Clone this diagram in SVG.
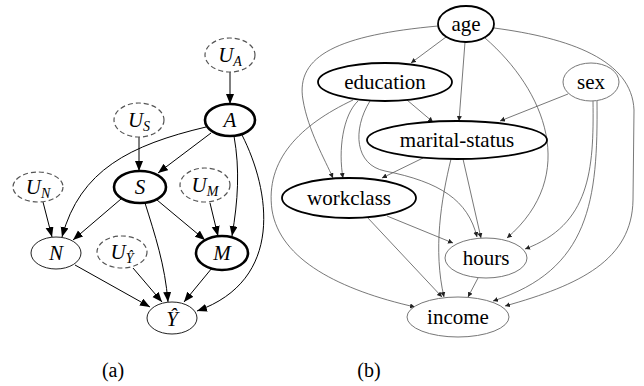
<svg xmlns="http://www.w3.org/2000/svg" width="644" height="386" viewBox="0 0 644 386">
<style>
.m{font-style:italic;font-size:21px;text-anchor:middle}
.sub{font-size:14px}
.lb{font-size:21px;text-anchor:middle}
.cap{font-size:20px;text-anchor:middle}
.thick{fill:#fff;stroke:#000;stroke-width:2.6}
.thin{fill:#fff;stroke:#222;stroke-width:1}
.dash{fill:#fff;stroke:#555;stroke-width:1.2;stroke-dasharray:5 3}
.bthick{fill:#fff;stroke:#000;stroke-width:1.8}
.bthin{fill:#fff;stroke:#777;stroke-width:1}
.ea{fill:none;stroke:#000;stroke-width:1;marker-end:url(#ha)}
.eb{fill:none;stroke:#555;stroke-width:0.8;marker-end:url(#hb)}
</style>
<defs>
<marker id="ha" markerUnits="userSpaceOnUse" markerWidth="12" markerHeight="10" refX="10" refY="4" orient="auto"><path d="M0,0 L10,4 L0,8 Z" fill="#000"/></marker>
<marker id="hb" markerUnits="userSpaceOnUse" markerWidth="7" markerHeight="6" refX="5" refY="2.5" orient="auto"><path d="M0,0 L5,2.5 L0,5 Z" fill="#222"/></marker>
</defs>
<rect width="644" height="386" fill="#fff"/>
<g id="connectors">
<path class="ea" d="M230,72 L230,104"/>
<path class="ea" d="M211,133 L158,173"/>
<path class="ea" d="M206,127 C130,145 80,170 62,237"/>
<path class="ea" d="M234,136 C240,170 238,200 232,236"/>
<path class="ea" d="M242,135 C270,190 285,280 197,311"/>
<path class="ea" d="M139,137 L139,171"/>
<path class="ea" d="M121,199 L73,240"/>
<path class="ea" d="M157,200 L205,240"/>
<path class="ea" d="M145,203 C155,235 165,265 168,302"/>
<path class="ea" d="M43,202 L52,237"/>
<path class="ea" d="M75,265 L150,307"/>
<path class="ea" d="M133,268 L162,302"/>
<path class="ea" d="M210,203 L218,236"/>
<path class="ea" d="M212,268 L184,302"/>
<path class="eb" d="M446,37 L411,63"/>
<path class="eb" d="M465,42 L459,121"/>
<path class="eb" d="M438,26 C340,35 295,55 303,100 C308,130 325,160 333,178"/>
<path class="eb" d="M485,38 C545,90 580,175 507,238"/>
<path class="eb" d="M494,28 C570,38 632,60 634,110 L633,200 C632,260 580,285 505,306"/>
<path class="eb" d="M407,100 L433,122"/>
<path class="eb" d="M358,101 C343,115 338,150 343,178"/>
<path class="eb" d="M370,101 C352,130 355,165 385,171 C440,182 468,200 477,237"/>
<path class="eb" d="M353,100 C300,125 265,160 272,210 C280,260 340,290 415,307"/>
<path class="eb" d="M423,158 L382,178"/>
<path class="eb" d="M463,159 L481,238"/>
<path class="eb" d="M451,159 C441,200 433,250 444,297"/>
<path class="eb" d="M568,94 L500,121"/>
<path class="eb" d="M593,101 C594,170 590,225 525,249"/>
<path class="eb" d="M597,101 C598,200 590,270 493,301"/>
<path class="eb" d="M387,216 L453,243"/>
<path class="eb" d="M367,217 L442,297"/>
<path class="eb" d="M478,278 L468,297"/>
</g>
<g font-family="Liberation Serif, Times New Roman, serif" fill="#000">
<g id="UA"><ellipse class="dash" cx="230" cy="55" rx="25" ry="17"/><text class="m" x="230" y="62">U<tspan class="sub" dy="4">A</tspan></text></g>
<g id="A"><ellipse class="thick" cx="230" cy="120" rx="25" ry="16"/><text class="m" x="230" y="127">A</text></g>
<g id="US"><ellipse class="dash" cx="139" cy="120" rx="25" ry="17"/><text class="m" x="139" y="127">U<tspan class="sub" dy="4">S</tspan></text></g>
<g id="S"><ellipse class="thick" cx="140" cy="187" rx="26" ry="16"/><text class="m" x="140" y="194">S</text></g>
<g id="UN"><ellipse class="dash" cx="38" cy="187" rx="25" ry="15"/><text class="m" x="38" y="194">U<tspan class="sub" dy="4">N</tspan></text></g>
<g id="UM"><ellipse class="dash" cx="205" cy="185" rx="25" ry="17"/><text class="m" x="205" y="192">U<tspan class="sub" dy="4">M</tspan></text></g>
<g id="N"><ellipse class="thin" cx="56" cy="253" rx="25" ry="16"/><text class="m" x="56" y="260">N</text></g>
<g id="UY"><ellipse class="dash" cx="122" cy="252" rx="25" ry="16"/><text class="m" x="122" y="259">U<tspan class="sub" dy="4">Ŷ</tspan></text></g>
<g id="M"><ellipse class="thick" cx="222" cy="253" rx="26" ry="17"/><text class="m" x="222" y="260">M</text></g>
<g id="Yhat"><ellipse class="thin" cx="172" cy="318" rx="25" ry="16"/><text class="m" x="172" y="326">Ŷ</text></g>
<g id="age"><ellipse class="bthick" cx="466" cy="24" rx="28" ry="18"/><text class="lb" x="466" y="31">age</text></g>
<g id="education"><ellipse class="bthick" cx="385" cy="82" rx="67" ry="19"/><text class="lb" x="385" y="89">education</text></g>
<g id="sex"><ellipse class="bthin" cx="591" cy="82" rx="28" ry="19"/><text class="lb" x="591" y="89">sex</text></g>
<g id="marital-status"><ellipse class="bthick" cx="457" cy="140" rx="90" ry="19"/><text class="lb" x="457" y="147">marital-status</text></g>
<g id="workclass"><ellipse class="bthick" cx="349" cy="198" rx="67" ry="20"/><text class="lb" x="349" y="205">workclass</text></g>
<g id="hours"><ellipse class="bthin" cx="486" cy="258" rx="41" ry="20"/><text class="lb" x="486" y="265">hours</text></g>
<g id="income"><ellipse class="bthin" cx="458" cy="317" rx="51" ry="20"/><text class="lb" x="458" y="324">income</text></g>
<text class="cap" x="113" y="377">(a)</text>
<text class="cap" x="369" y="377">(b)</text>
</g>
</svg>
